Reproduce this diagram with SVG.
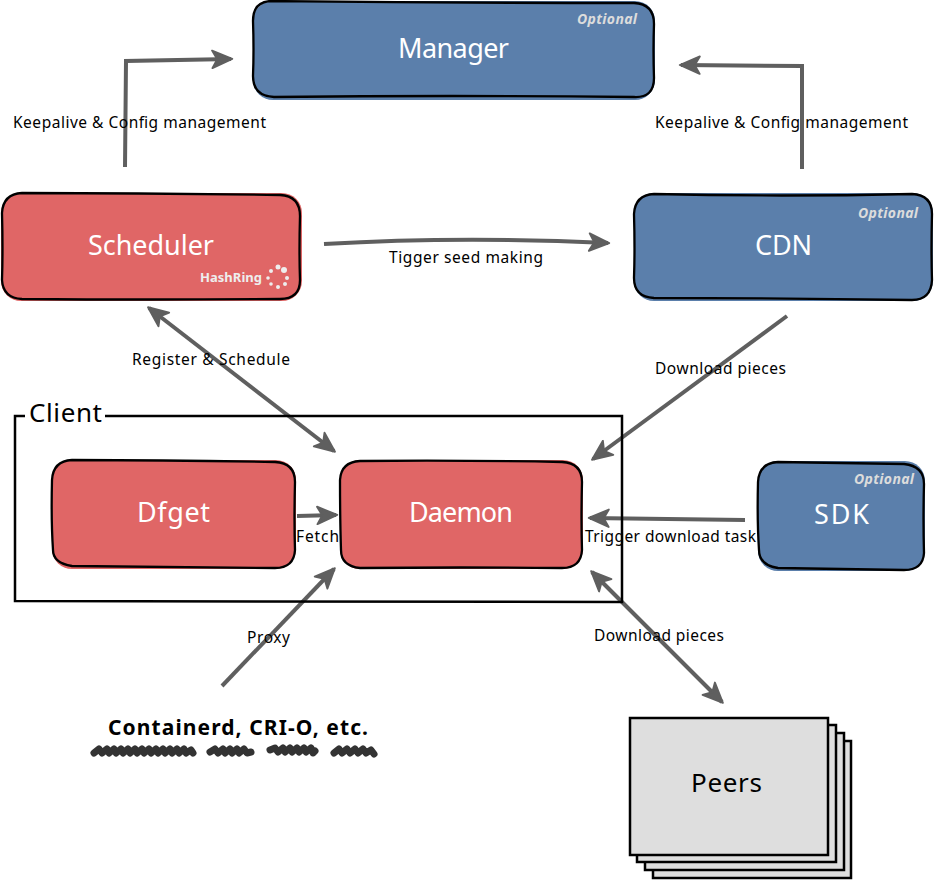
<svg xmlns="http://www.w3.org/2000/svg" width="934" height="880" viewBox="0 0 934 880">
<style>
text{font-family:"Noto Sans","Liberation Sans",sans-serif}
.o{fill:none;stroke:#000;stroke-width:2.3}
.red{fill:#e06666}
.blue{fill:#5b7fab}
.t{fill:#fff;font-size:27px}
.opt{fill:#dcdcdc;font-size:14px;font-weight:700;font-style:italic}
.l{fill:#000;font-size:15.5px}
.c{fill:none;stroke:#5f5f5f;stroke-width:4}
.page{fill:#dedede;stroke:#000;stroke-width:2.5}
.sc{fill:none;stroke:#333;stroke-width:7;stroke-linecap:round;stroke-linejoin:round}
</style>
<defs>
<marker id="a" markerUnits="userSpaceOnUse" markerWidth="24" markerHeight="20" refX="16" refY="8" viewBox="0 0 18 16" orient="auto-start-reverse">
<path d="M1 1L17 8L1 15L5 8Z" fill="#5f5f5f" stroke="#5f5f5f" stroke-width="1.5" stroke-linejoin="round"/>
</marker>
</defs>
<g id="connectors">
<path class="c" d="M125 167L126 61L231 59" marker-end="url(#a)"/>
<path class="c" d="M802 169L802 66L681 65" marker-end="url(#a)"/>
<path class="c" d="M324 244Q460 236 608 243" marker-end="url(#a)"/>
<path class="c" d="M149 308L334 451" marker-start="url(#a)" marker-end="url(#a)"/>
<path class="c" d="M787 316L593 459" marker-end="url(#a)"/>
<path class="c" d="M297 516L336 515" marker-end="url(#a)"/>
<path class="c" d="M745 520L590 518" marker-end="url(#a)"/>
<path class="c" d="M222 686L334 569" marker-end="url(#a)"/>
<path class="c" d="M592 572L722 702" marker-start="url(#a)" marker-end="url(#a)"/>
</g>
<g id="client">
<path d="M25 416H15V601L622 602V416H105" fill="none" stroke="#000" stroke-width="2.5"/>
<text x="29" y="422" textLength="73" style="font-size:26px">Client</text>
</g>
<g id="manager">
<rect class="blue" x="253" y="1" width="402" height="99" rx="20"/>
<path class="o" d="M272 1Q450 3 634 3Q654 4 654 24Q653 50 654 78Q654 98 634 97Q450 95 274 97Q253 96 253 76Q254 50 253 21Q253 1 272 1Z"/>
<text class="opt" x="577" y="24" textLength="60">Optional</text>
<text class="t" x="398" y="58" textLength="111">Manager</text>
</g>
<g id="scheduler">
<rect class="red" x="1" y="193" width="301" height="108" rx="20"/>
<path class="o" d="M22 193Q150 193 280 195Q300 196 300 216Q299 250 300 280Q300 299 280 299Q150 300 22 299Q3 298 2 280Q3 250 2 213Q3 194 22 193Z"/>
<text class="t" x="88" y="255" textLength="126">Scheduler</text>
<text x="200" y="282" textLength="62" style="font-size:13px;font-weight:700;fill:#eee">HashRing</text>
<g fill="#eee"><circle cx="278" cy="267" r="2.5"/><circle cx="284" cy="270" r="3"/><circle cx="287" cy="278" r="2"/><circle cx="285" cy="284" r="2"/><circle cx="278" cy="287" r="2"/><circle cx="271" cy="284" r="1.8"/><circle cx="268" cy="278" r="1.8"/><circle cx="271" cy="271" r="2"/></g>
</g>
<g id="cdn">
<rect class="blue" x="634" y="193" width="299" height="108" rx="20"/>
<path class="o" d="M654 194Q780 197 912 194Q932 195 932 214Q931 250 932 280Q931 300 912 300Q780 298 654 298Q634 297 634 278Q635 250 634 214Q635 195 654 194Z"/>
<text class="opt" x="858" y="218" textLength="60">Optional</text>
<text class="t" x="755" y="255" textLength="57">CDN</text>
</g>
<g id="dfget">
<rect class="red" x="52" y="460" width="244" height="109" rx="20"/>
<path class="o" d="M72 460Q170 460 275 462Q295 463 295 482Q294 520 295 550Q294 568 275 568Q170 567 72 566Q53 563 53 550Q51 520 52 480Q53 461 72 460Z"/>
<text class="t" x="137" y="522" textLength="73">Dfget</text>
</g>
<g id="daemon">
<rect class="red" x="340" y="460" width="243" height="109" rx="20"/>
<path class="o" d="M360 461Q460 460 562 462Q582 463 582 482Q581 520 582 550Q581 568 562 568Q460 567 360 568Q341 566 341 550Q340 520 340 480Q341 462 360 461Z"/>
<text class="t" x="409" y="522" textLength="104">Daemon</text>
</g>
<g id="sdk">
<rect class="blue" x="758" y="461" width="167" height="110" rx="20"/>
<path class="o" d="M778 462Q840 463 904 464Q924 466 924 484Q923 520 924 553Q923 570 904 570Q840 569 778 568Q759 565 759 550Q757 520 758 482Q759 463 778 462Z"/>
<text class="opt" x="854" y="484" textLength="60">Optional</text>
<text class="t" x="814" y="524" textLength="55">SDK</text>
</g>
<g id="containerd">
<text x="108" y="735" textLength="260" style="font-size:21px;font-weight:700;fill:#000">Containerd, CRI-O, etc.</text>
<path class="sc" d="M94 753l5 -4l3 4l5 -4l2 4l5 -4l2 4l5 -4l2 4l5 -4l2 4l5 -4l2 4l5 -4l2 4l5 -4l2 4l5 -4l2 4l5 -4l2 4l5 -4l2 4l5 -4l2 4l5 -4l2 4l5 -3l2 3"/>
<path class="sc" d="M210 752l5 -3l3 4l5 -4l2 4l5 -4l2 4l5 -4l2 4l5 -4l3 4l4 -1"/>
<path class="sc" d="M270 750l5 -2l3 4l5 -4l2 4l5 -4l2 4l5 -4l2 4l5 -4l2 4l5 -4l2 5l2 -2"/>
<path class="sc" d="M334 753l5 -4l3 4l5 -4l3 4l5 -4l3 4l5 -4l3 4l5 -3l3 4"/>
</g>
<g id="peers">
<rect class="page" x="653" y="741" width="198" height="137"/>
<rect class="page" x="645" y="733" width="199" height="137"/>
<rect class="page" x="637" y="725" width="199" height="137"/>
<rect class="page" x="630" y="718" width="198" height="137"/>
<text x="691" y="792" textLength="71" style="font-size:26px;fill:#000">Peers</text>
</g>
<g id="labels">
<text class="l" x="13" y="128" textLength="253">Keepalive &amp; Config management</text>
<text class="l" x="655" y="128" textLength="253">Keepalive &amp; Config management</text>
<text class="l" x="389" y="263" textLength="154">Tigger seed making</text>
<text class="l" x="132" y="365" textLength="158">Register &amp; Schedule</text>
<text class="l" x="655" y="374" textLength="131">Download pieces</text>
<text class="l" x="296" y="542" textLength="43">Fetch</text>
<text class="l" x="585" y="542" textLength="171">Trigger download task</text>
<text class="l" x="247" y="643" textLength="43">Proxy</text>
<text class="l" x="594" y="641" textLength="130">Download pieces</text>
</g>
</svg>
